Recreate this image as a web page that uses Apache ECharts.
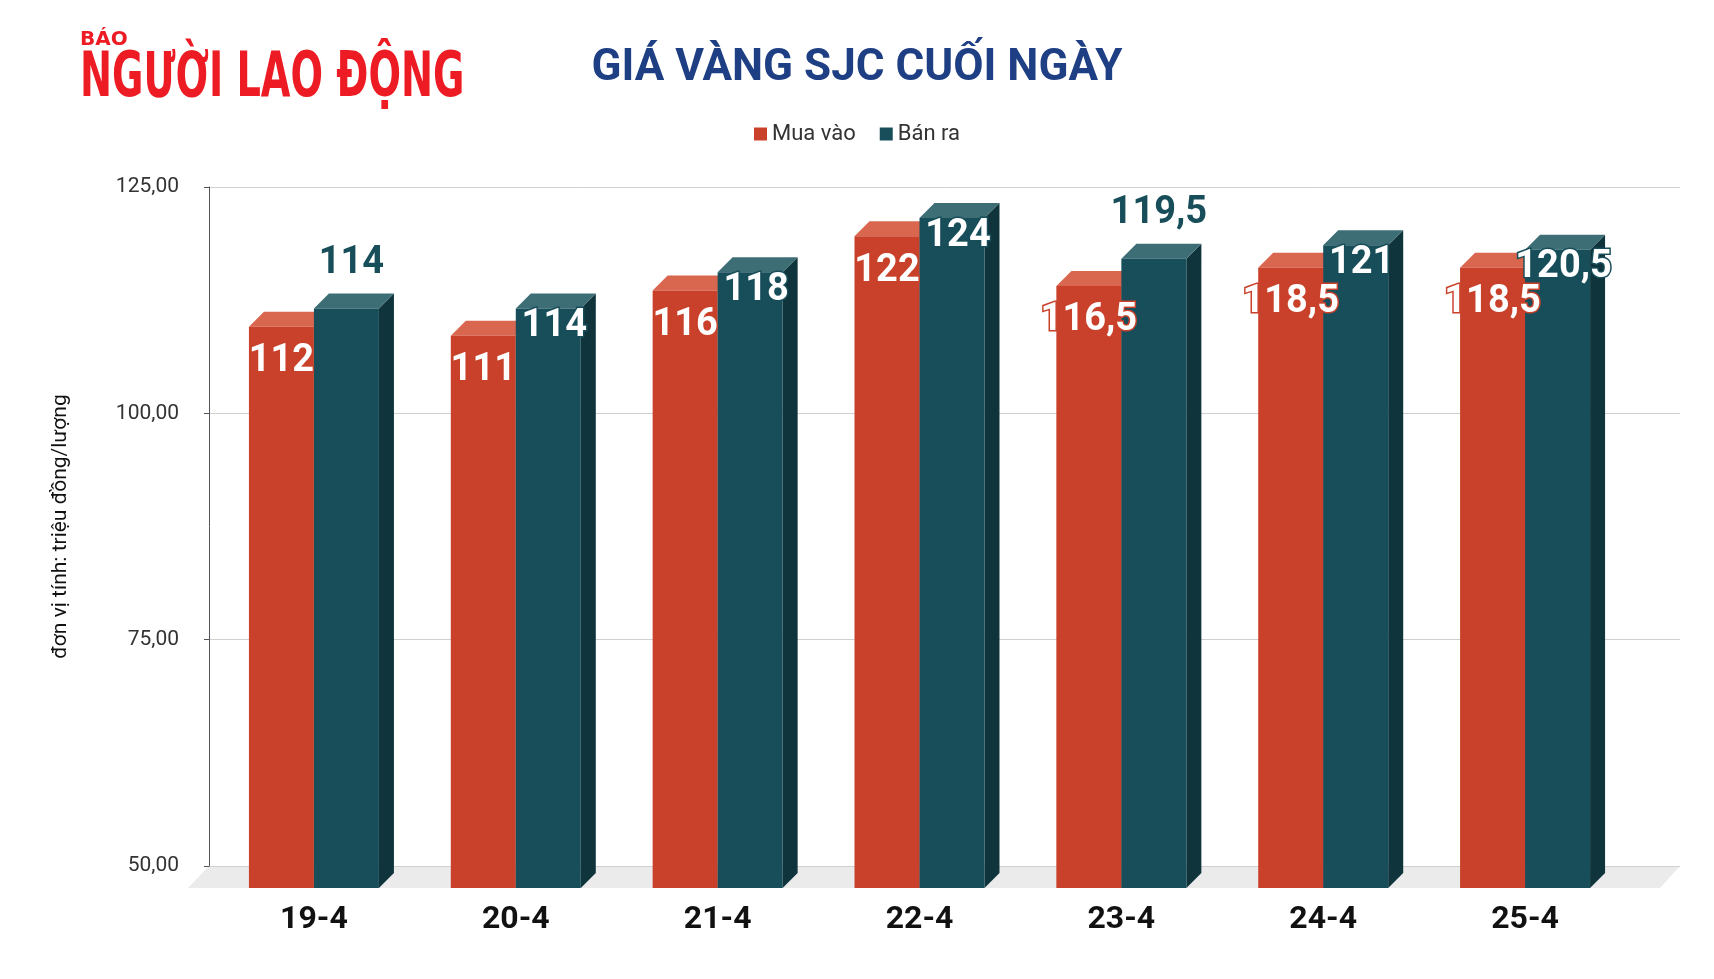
<!DOCTYPE html>
<html><head><meta charset="utf-8">
<script src="https://cdn.jsdelivr.net/npm/echarts@6/dist/echarts.min.js"></script>
<style>html,body{margin:0;background:#fff}#c{width:1714px;height:979px}</style>
</head><body><div id="c"></div>
<script>
var days = ["19-4", "20-4", "21-4", "22-4", "23-4", "24-4", "25-4"];
var muaVao = [112, 111, 116, 122, 116.5, 118.5, 118.5];
var banRa = [114, 114, 118, 124, 119.5, 121, 120.5];

var chart = echarts.init(document.getElementById("c"));

var BW = 65, D = 15, SHIFT = 22;
function fmt(v) { return String(v).replace(".", ","); }

function bar3d(side, front, top, dark) {
  return function (params, api) {
    var x = api.value(0), v = api.value(1);
    var p = api.coord([x, v]), b = api.coord([x, 50]);
    var yt = p[1] + SHIFT, yb = b[1] + SHIFT;
    var x0 = side < 0 ? p[0] - BW : p[0];
    var x1 = x0 + BW;
    return {
      type: "group",
      children: [
        { type: "polygon", shape: { points: [[x1, yt], [x1 + D, yt - D], [x1 + D, yb - D], [x1, yb]] }, style: { fill: dark } },
        { type: "polygon", shape: { points: [[x0, yt], [x0 + D, yt - D], [x1 + D, yt - D], [x1, yt]] }, style: { fill: top } },
        { type: "rect", shape: { x: x0, y: yt, width: BW, height: yb - yt }, style: { fill: front } }
      ]
    };
  };
}

function labels(vals, side, styleFn) {
  return {
    type: "custom", xAxisIndex: 1, yAxisIndex: 1,
    silent: true,
    z: 10,
    data: vals.map(function (v, i) { return [i, v]; }),
    renderItem: function (params, api) {
      var i = api.value(0), v = api.value(1);
      var p = api.coord([i, v]);
      var s = styleFn(i);
      var cx = side < 0 ? p[0] - BW / 2 : p[0] + BW / 2;
      return {
        type: "text",
        style: {
          x: cx + (s.dx || 0), y: p[1] + SHIFT + s.dy, text: fmt(v), align: "center", verticalAlign: "middle",
          font: "bold 38px Roboto, sans-serif", fill: s.fill, stroke: s.stroke, lineWidth: s.stroke ? 3 : 0
        }
      };
    }
  };
}

chart.setOption({
  animation: false,
  title: {
    text: "GIÁ VÀNG SJC CUỐI NGÀY", left: "center", top: 42,
    textStyle: { color: "#1f3f84", fontSize: 44, fontWeight: "bold", fontFamily: "Roboto, sans-serif" }
  },
  graphic: [
    { type: "text", left: 80, top: 30, style: { text: "BÁO", font: "bold 20px 'DejaVu Sans', sans-serif", fill: "#ed1c24" } },
    { type: "text", x: 80, y: 48, scaleX: 0.76, scaleY: 1.12, style: { text: "NGƯỜI LAO ĐỘNG", font: "bold 56px 'DejaVu Sans Condensed', sans-serif", fill: "#ed1c24" } },
    { type: "polygon", z: -1, shape: { points: [[188, 888], [1660, 888], [1680, 866], [209, 866]] }, style: { fill: "#ebebeb" } }
  ],
  legend: {
    top: 118, left: "center", itemWidth: 13, itemHeight: 13, itemGap: 24, icon: "rect",
    textStyle: { fontSize: 22, color: "#333", fontFamily: "Roboto, sans-serif" },
    data: [{ name: "Mua vào", itemStyle: { color: "#c9412a" } }, { name: "Bán ra", itemStyle: { color: "#174e5a" } }]
  },
  grid: [
    { left: 209, right: 34, top: 187, bottom: 113 },
    { left: 213, right: 88, top: 187, bottom: 113 }
  ],
  xAxis: [
    { type: "value", gridIndex: 0, show: false, min: 0, max: 1 },
    {
      type: "category", gridIndex: 1, data: days, axisLine: { show: false }, axisTick: { show: false },
      axisLabel: { margin: 38, fontSize: 32, fontWeight: "bold", color: "#111", fontFamily: "Roboto, sans-serif" }
    }
  ],
  yAxis: [
    {
      type: "value", gridIndex: 0, min: 50, max: 125, interval: 25,
      name: "đơn vị tính: triệu đồng/lượng", nameLocation: "middle", nameGap: 138, nameRotate: 90,
      nameTextStyle: { fontSize: 21, color: "#111", fontFamily: "Roboto, sans-serif" },
      axisLabel: { margin: 30, fontSize: 21, color: "#333", fontFamily: "Roboto, sans-serif", formatter: function (v) { return v.toFixed(2).replace(".", ","); } },
      splitLine: { lineStyle: { color: "#d0d0d0" } }
    },
    { type: "value", gridIndex: 1, min: 50, max: 125, interval: 25, show: false, splitLine: { show: false } }
  ],
  series: [
    { name: "Mua vào", type: "custom", xAxisIndex: 1, yAxisIndex: 1, itemStyle: { color: "#c9412a" }, data: muaVao.map(function (v, i) { return [i, v]; }), renderItem: bar3d(-1, "#c9412a", "#d9664f", "#c9412a") },
    { name: "Bán ra", type: "custom", xAxisIndex: 1, yAxisIndex: 1, itemStyle: { color: "#174e5a" }, data: banRa.map(function (v, i) { return [i, v]; }), renderItem: bar3d(1, "#174e5a", "#3d6e75", "#0f343c") },
    labels(muaVao, -1, function () { return { dy: 35, fill: "#fff", stroke: "#c9412a" }; }),
    labels(banRa, 1, function (i) {
      if (i === 0 || i === 4) return { dy: -45, fill: "#174e5a", dx: 5 };
      return { dy: 18, fill: "#fff", stroke: "#174e5a", dx: 6 };
    })
  ]
});
</script></body></html>
